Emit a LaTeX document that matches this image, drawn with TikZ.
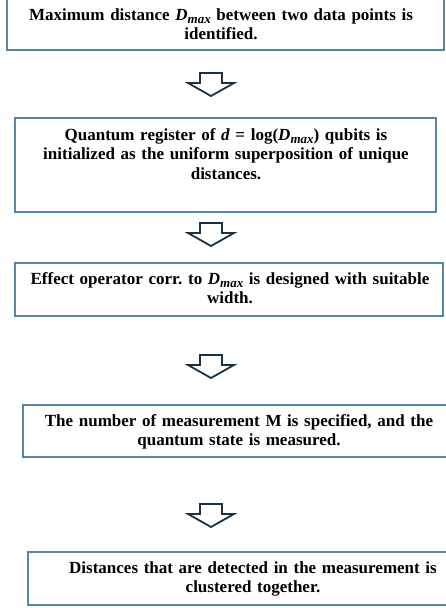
\documentclass[tikz,border=0pt]{standalone}
\usepackage{fontspec}
\setmainfont{Liberation Serif}
\usetikzlibrary{calc}
\definecolor{boxblue}{RGB}{84,134,164}
\definecolor{arrownavy}{RGB}{24,50,70}
\newcommand{\dmax}{\textit{D}\raisebox{-3.5pt}{\fontsize{13}{13}\selectfont\textit{max}}}
\frenchspacing
\begin{document}
\begin{tikzpicture}[x=1pt,y=-1pt,
  box/.style={draw=boxblue, line width=1.5pt},
  txt/.style={inner sep=0pt, align=center, font=\fontsize{17}{19.5}\selectfont\bfseries, text width=440pt},
  barrow/.style={draw=arrownavy, line width=1.8pt, line join=miter, fill=white}]
\useasboundingbox (0,0) rectangle (446,608);
\clip (0,0) rectangle (446,608);
% boxes
\draw[box] (7,-5) rectangle (444,50);
\draw[box] (15,118) rectangle (436,212);
\draw[box] (15,263) rectangle (443,316);
\draw[box] (23,405) rectangle (455,457);
\draw[box] (28,552) rectangle (455,605);
% texts
\node[txt, anchor=base] (t1) at (221,20) {Maximum distance \dmax{} between two data points is\\identified.};
\node[txt, anchor=base] (t2) at (226,140) {Quantum register of \textit{d} = log(\dmax) qubits is\\initialized as the uniform superposition of unique\\distances.};
\node[txt, anchor=base] (t3) at (230,284) {Effect operator corr. to \dmax{} is designed with suitable\\width.};
\node[txt, anchor=base] (t4) at (239,426) {The number of measurement M is specified, and the\\quantum state is measured.};
\node[txt, anchor=base] (t5) at (253,573) {Distances that are detected in the measurement is\\clustered together.};
% block arrows
\foreach \n/\y in {a1/73, a2/223, a3/355, a4/504} {
  \coordinate (\n) at (211,\y);
  \draw[barrow] (\n) ++(-11,0) -- ++(22,0) -- ++(0,10) -- ++(12,0) -- ++(-23,13) -- ++(-23,-13) -- ++(12,0) -- cycle;
}
\end{tikzpicture}
\end{document}
